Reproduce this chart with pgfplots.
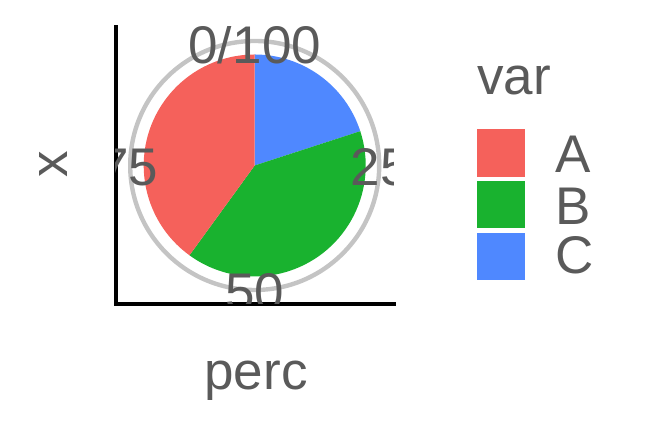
\documentclass[border=0pt]{standalone}
\usepackage{pgfplots}
\usepackage{pgfplotstable}
\pgfplotsset{compat=1.18}
\usepackage{fontspec}
\setmainfont{Liberation Sans}
\definecolor{cA}{HTML}{F5615B}
\definecolor{cB}{HTML}{19B22F}
\definecolor{cC}{HTML}{4F88FF}
\definecolor{txt}{HTML}{5A5A5A}
\definecolor{ring}{HTML}{C4C4C4}
\pgfplotstableread{
var perc
A 40
B 40
C 20
}\piedata
\begin{document}
\begin{tikzpicture}
\pgfplotstablegetelem{0}{perc}\of\piedata \let\pA\pgfplotsretval
\pgfplotstablegetelem{1}{perc}\of\piedata \let\pB\pgfplotsretval
\pgfplotstablegetelem{2}{perc}\of\piedata \let\pC\pgfplotsretval
\pgfmathsetmacro{\total}{\pA+\pB+\pC}
\pgfmathsetmacro{\aC}{90-360*\pC/\total}
\pgfmathsetmacro{\aB}{\aC-360*\pB/\total}
\pgfmathsetmacro{\aA}{\aB-360*\pA/\total}
\tikzset{lab/.style={font=\fontsize{26.5}{30}\selectfont, text=txt, inner sep=0pt}}
\path[use as bounding box] (0,0) rectangle (324pt,216pt);
\begin{axis}[at={(57.85pt,64pt)}, anchor=south west, scale only axis,
  width=139pt, height=138.5pt,
  xmin=-139, xmax=139, ymin=-138.5, ymax=138.5,
  axis x line*=bottom, axis y line*=left,
  axis line style={line width=2pt, -, black, line cap=rect},
  xtick=\empty, ytick=\empty, clip=true]
\draw[ring, line width=2.2pt] (axis cs:0,0) circle[radius=62.25pt];
\fill[cC] (axis cs:0,0) -- (axis cs:0,111) arc[start angle=90, end angle=\aC, radius=55.5pt] -- cycle;
\fill[cB] (axis cs:0,0) -- ++(\aC:55.5pt) arc[start angle=\aC, end angle=\aB, radius=55.5pt] -- cycle;
\fill[cA] (axis cs:0,0) -- ++(\aB:55.5pt) arc[start angle=\aB, end angle=\aA, radius=55.5pt] -- cycle;
\node[lab, anchor=center] at (axis cs:0,121.4) {0/100};
\node[lab, anchor=west] at (axis cs:95.5,-2) {25};
\node[lab, anchor=center] at (axis cs:0,-126.6) {50};
\node[lab, anchor=east] at (axis cs:-96,-2) {75};
\end{axis}
\node[lab, rotate=90, anchor=center] at (26.5pt,134pt) {x};
\node[lab, anchor=base] at (128pt,21.25pt) {perc};
\node[lab, anchor=base west] at (238.5pt,168.5pt) {var};
\fill[cA] (238.5pt,151.5pt) rectangle (262.5pt,127.5pt);
\fill[cB] (238.5pt,125.5pt) rectangle (262.5pt,102pt);
\fill[cC] (238.5pt,99.5pt) rectangle (262.5pt,76pt);
\node[lab, anchor=west] at (277.5pt,139pt) {A};
\node[lab, anchor=west] at (277.5pt,113pt) {B};
\node[lab, anchor=west] at (277.5pt,88.5pt) {C};
\end{tikzpicture}
\end{document}
